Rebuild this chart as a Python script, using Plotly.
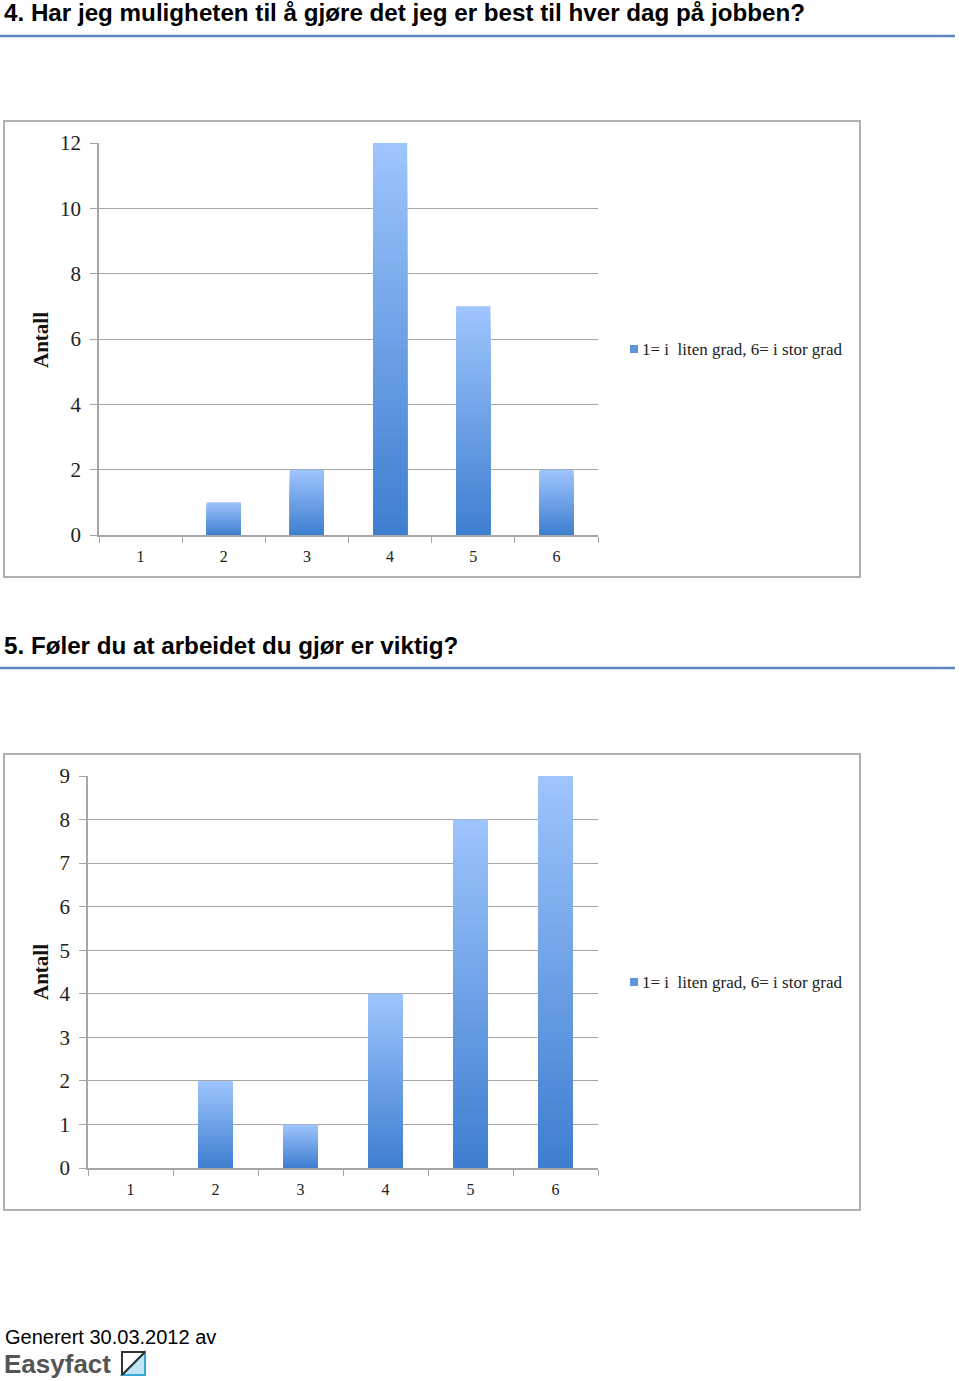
import plotly.graph_objects as go

W, H = 960, 1381

categories = ["1", "2", "3", "4", "5", "6"]
q4_values = [0, 1, 2, 12, 7, 2]
q5_values = [0, 2, 1, 4, 8, 9]
q4_title = "4. Har jeg muligheten til å gjøre det jeg er best til hver dag på jobben?"
q5_title = "5. Føler du at arbeidet du gjør er viktig?"
series_name = "1= i  liten grad, 6= i stor grad"
y_title = "Antall"
q4_ticks = [0, 2, 4, 6, 8, 10, 12]
q5_ticks = [0, 1, 2, 3, 4, 5, 6, 7, 8, 9]

TOP = (157, 196, 252)
BOT = (61, 125, 207)
STEPS = 40


def px(x):
    return x / W


def py(y):
    return 1 - y / H


def mix(f):
    c = [round(BOT[i] + (TOP[i] - BOT[i]) * f) for i in range(3)]
    return f"rgb({c[0]},{c[1]},{c[2]})"


fig = go.Figure()


def add_bars(values, xa, ya):
    for k in range(STEPS):
        f = 1 - k / STEPS
        fig.add_trace(go.Bar(
            x=categories, y=[v * f for v in values],
            xaxis=xa, yaxis=ya, width=0.41,
            marker=dict(color=mix(f), line=dict(width=0)),
            name=series_name, showlegend=False,
            hoverinfo="skip" if k else "x+y",
        ))


add_bars(q4_values, "x", "y")
add_bars(q5_values, "x2", "y2")

grid = "#a6a6a6"
SERIF = "Liberation Serif, DejaVu Serif, serif"
SANS = "Liberation Sans, Arial, sans-serif"
tickfont = dict(family=SERIF, size=21, color="#222")
xtickfont = dict(family=SERIF, size=16, color="#222")


def xaxis(domain, anchor):
    return dict(domain=domain, anchor=anchor, type="category",
                categoryorder="array", categoryarray=categories,
                range=[-0.5, 5.5], tickson="boundaries", ticks="outside",
                ticklen=6, tickcolor=grid, showline=True, linecolor=grid,
                linewidth=1.5, showgrid=False, tickfont=xtickfont,
                ticklabelstandoff=6, fixedrange=True)


def yaxis(domain, anchor, top, ticks):
    return dict(domain=domain, anchor=anchor, range=[0, top], tickvals=ticks,
                ticks="outside", ticklen=7, tickcolor=grid, showline=True,
                linecolor=grid, linewidth=1.5, showgrid=True, gridcolor=grid,
                gridwidth=1.2, zeroline=False, tickfont=tickfont,
                ticklabelstandoff=5, fixedrange=True)


fig.update_layout(
    width=W, height=H,
    margin=dict(l=0, r=0, t=0, b=0, pad=0, autoexpand=False),
    paper_bgcolor="white", plot_bgcolor="white",
    barmode="overlay", showlegend=False,
    xaxis=xaxis([px(99), px(598)], "y"),
    yaxis=yaxis([py(535), py(143)], "x", max(q4_ticks), q4_ticks),
    xaxis2=xaxis([px(88), px(598)], "y2"),
    yaxis2=yaxis([py(1168), py(776)], "x2", max(q5_ticks), q5_ticks),
)

shapes = []
annotations = []

# section titles and rules
for title, ty, ly in [(q4_title, 13, 36), (q5_title, 645, 668)]:
    annotations.append(dict(x=px(2), y=py(ty), xref="paper", yref="paper",
                            xanchor="left", yanchor="middle", showarrow=False,
                            text=f"<b>{title}</b>",
                            font=dict(family=SANS, size=24.2, color="#000")))
    shapes.append(dict(type="line", xref="paper", yref="paper",
                       x0=0, x1=px(955), y0=py(ly), y1=py(ly),
                       line=dict(color="#5b87c0", width=2.5)))

# chart frames, axis titles, legends
for top, bot, ylab_y, leg_y in [(121, 577, 340, 349), (754, 1210, 972, 982)]:
    shapes.append(dict(type="rect", xref="paper", yref="paper",
                       x0=px(4), x1=px(860), y0=py(bot), y1=py(top),
                       line=dict(color="#b0b0b0", width=2)))
    annotations.append(dict(x=px(41), y=py(ylab_y), xref="paper", yref="paper",
                            xanchor="center", yanchor="middle", showarrow=False,
                            textangle=-90, text=f"<b>{y_title}</b>",
                            font=dict(family=SERIF, size=21, color="#111")))
    shapes.append(dict(type="rect", xref="paper", yref="paper",
                       x0=px(630), x1=px(638), y0=py(leg_y + 4), y1=py(leg_y - 4),
                       fillcolor="#5f93dc", line=dict(width=0)))
    annotations.append(dict(x=px(640), y=py(leg_y), xref="paper", yref="paper",
                            xanchor="left", yanchor="middle", showarrow=False,
                            text=series_name,
                            font=dict(family=SERIF, size=17, color="#222")))

# footer
annotations.append(dict(x=px(3), y=py(1337), xref="paper", yref="paper",
                        xanchor="left", yanchor="middle", showarrow=False,
                        text="Generert 30.03.2012 av",
                        font=dict(family=SANS, size=20, color="#000")))
annotations.append(dict(x=px(2), y=py(1364), xref="paper", yref="paper",
                        xanchor="left", yanchor="middle", showarrow=False,
                        text="<b>Easyfact</b>",
                        font=dict(family=SANS, size=26, color="#555")))
# logo
x0, x1, y0, y1 = px(122), px(145), py(1375), py(1352)
shapes.append(dict(type="path", xref="paper", yref="paper",
                   path=f"M {x1} {y1} L {x1} {y0} L {x0} {y0} Z",
                   fillcolor="#bfe6f5", line=dict(color="#39a6d8", width=2)))
shapes.append(dict(type="path", xref="paper", yref="paper",
                   path=f"M {x0} {y0} L {x0} {y1} L {x1} {y1}",
                   line=dict(color="#333", width=2)))
shapes.append(dict(type="line", xref="paper", yref="paper",
                   x0=x0, y0=y0, x1=x1, y1=y1,
                   line=dict(color="#333", width=2)))

fig.update_layout(shapes=shapes, annotations=annotations)
fig.write_html("out.html")
